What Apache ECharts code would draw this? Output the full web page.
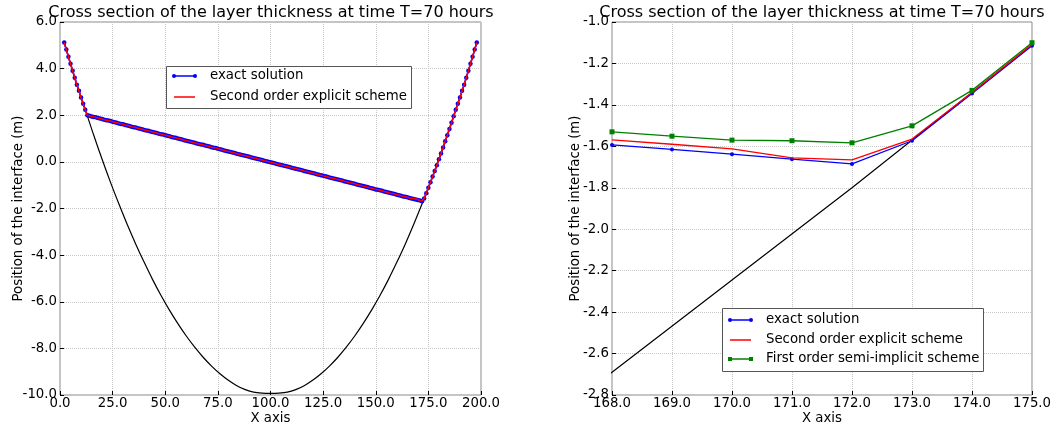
<!DOCTYPE html>
<html><head><meta charset="utf-8">
<script src="https://cdn.jsdelivr.net/npm/echarts@6/dist/echarts.min.js"></script>
<style>html,body{margin:0;padding:0;background:#fff}#c{width:1052px;height:425px}</style>
</head><body><div id="c"></div>
<script>
// ---- data ----
const titleText = 'Cross section of the layer thickness at time T=70 hours';
const yName = 'Position of the interface (m)';
const xName = 'X axis';
const legendNames = ['exact solution', 'Second order explicit scheme', 'First order semi-implicit scheme'];

// grid abscissae of the left panel
const xGrid = [2,3,4,5,6,7,8,9,10,11,12,13,14,15,16,17,18,19,20,21,22,23,24,25,26,27,28,29,30,31,32,33,34,35,36,37,38,39,40,41,42,43,44,45,46,47,48,49,50,51,52,53,54,55,56,57,58,59,60,61,62,63,64,65,66,67,68,69,70,71,72,73,74,75,76,77,78,79,80,81,82,83,84,85,86,87,88,89,90,91,92,93,94,95,96,97,98,99,100,101,102,103,104,105,106,107,108,109,110,111,112,113,114,115,116,117,118,119,120,121,122,123,124,125,126,127,128,129,130,131,132,133,134,135,136,137,138,139,140,141,142,143,144,145,146,147,148,149,150,151,152,153,154,155,156,157,158,159,160,161,162,163,164,165,166,167,168,169,170,171,172,173,174,175,176,177,178,179,180,181,182,183,184,185,186,187,188,189,190,191,192,193,194,195,196,197,198];
// exact solution (interface position) at those abscissae
const exactLeft = [
 5.12,4.82,4.51,4.21,3.91,3.61,3.31,3.05,2.76,2.49,2.24,
 2.00,1.98,1.95,1.93,1.91,1.88,1.86,1.84,1.81,1.79,1.77,
 1.75,1.72,1.70,1.68,1.65,1.63,1.61,1.58,1.56,1.54,
 1.51,1.49,1.47,1.44,1.42,1.40,1.37,1.35,1.33,1.30,
 1.28,1.26,1.24,1.21,1.19,1.17,1.14,1.12,1.10,1.07,
 1.05,1.03,1.00,0.98,0.96,0.93,0.91,0.89,0.86,0.84,
 0.82,0.79,0.77,0.75,0.73,0.70,0.68,0.66,0.63,0.61,
 0.59,0.56,0.54,0.52,0.49,0.47,0.45,0.42,0.40,0.38,
 0.35,0.33,0.31,0.28,0.26,0.24,0.22,0.19,0.17,0.15,
 0.12,0.10,0.08,0.05,0.03,0.01,-0.02,-0.04,-0.06,-0.09,
 -0.11,-0.13,-0.16,-0.18,-0.20,-0.22,-0.25,-0.27,-0.29,-0.32,
 -0.34,-0.36,-0.39,-0.41,-0.43,-0.46,-0.48,-0.50,-0.53,-0.55,
 -0.57,-0.60,-0.62,-0.64,-0.67,-0.69,-0.71,-0.73,-0.76,-0.78,
 -0.80,-0.83,-0.85,-0.87,-0.90,-0.92,-0.94,-0.97,-0.99,-1.01,
 -1.04,-1.06,-1.08,-1.11,-1.13,-1.15,-1.18,-1.20,-1.22,-1.24,
 -1.27,-1.29,-1.31,-1.34,-1.36,-1.38,-1.41,-1.43,-1.45,-1.48,
 -1.50,-1.52,-1.55,-1.57,-1.593,-1.615,-1.638,-1.662,-1.685,-1.573,
 -1.345,-1.115,-0.87,-0.63,-0.39,-0.14,0.11,0.36,0.62,0.88,
 1.14,1.41,1.68,1.96,2.24,2.49,2.76,3.05,3.31,3.61,
 3.91,4.21,4.51,4.82,5.12
];
// bottom topography (black curve)
const topoX = [2,4,8,12,16,20,24,28,32,36,40,44,48,52,56,60,64,68,72,76,80,84,88,92,96,100,104,108,112,116,120,124,128,132,136,140,144,148,152,156,160,164,168,172,176,180,184,188,192,196,198];
const topoY = [5.12,4.51,3.31,2.24,1.15,0.11,-0.88,-1.81,-2.70,-3.53,-4.31,-5.05,-5.73,-6.36,-6.94,-7.47,-7.95,-8.38,-8.76,-9.09,-9.37,-9.60,-9.77,-9.88,-9.92,-9.93,-9.92,-9.88,-9.77,-9.60,-9.37,-9.09,-8.76,-8.38,-7.95,-7.47,-6.94,-6.36,-5.73,-5.05,-4.31,-3.53,-2.69,-1.80,-0.88,0.11,1.14,2.24,3.31,4.51,5.12];
// zoomed right panel
const xRight = [168,169,170,171,172,173,174,175];
const exactRight  = [-1.593,-1.615,-1.638,-1.662,-1.685,-1.573,-1.345,-1.115];
const secondRight = [-1.569,-1.590,-1.612,-1.656,-1.665,-1.565,-1.340,-1.108];
const firstRight  = [-1.530,-1.551,-1.570,-1.573,-1.583,-1.501,-1.330,-1.100];
// second order scheme on the full domain: same as exact at this scale except the values read on the zoom
const secondLeft = xGrid.map((x, i) => { const j = xRight.indexOf(x); return j >= 0 ? secondRight[j] : exactLeft[i]; });

// ---- chart ----
const F = 'DejaVu Sans';
const BLUE = '#0000ff', RED = '#ff0000', GREEN = '#008000';
const pairs = (xs, ys) => xs.map((x, i) => [x, ys[i]]);

function xAxisCfg(gi, min, max, interval) {
  return {
    type: 'value', gridIndex: gi, min, max, interval,
    name: xName, nameLocation: 'middle', nameGap: 17, nameMoveOverlap: false,
    nameTextStyle: { fontSize: 13.3, color: '#000', fontFamily: F },
    axisLine: { show: false, onZero: false },
    axisTick: { show: true, inside: true, length: 4, lineStyle: { color: '#000' } },
    axisLabel: { margin: 2, fontSize: 13.3, color: '#000', fontFamily: F, formatter: v => v.toFixed(1) },
    splitLine: { show: true, lineStyle: { color: '#c8c8c8', type: 'dotted', width: 1 } }
  };
}
function yAxisCfg(gi, min, max, interval, gap) {
  return {
    type: 'value', gridIndex: gi, min, max, interval,
    name: yName, nameLocation: 'middle', nameGap: gap, nameRotate: 90, nameMoveOverlap: false,
    nameTextStyle: { fontSize: 13.3, color: '#000', fontFamily: F },
    axisLine: { show: false, onZero: false },
    axisTick: { show: true, inside: true, length: 4, lineStyle: { color: '#000' } },
    axisLabel: { margin: 3, fontSize: 13.3, color: '#000', fontFamily: F, formatter: v => v.toFixed(1) },
    splitLine: { show: true, lineStyle: { color: '#c8c8c8', type: 'dotted', width: 1 } }
  };
}

function legendGraphic(bx, by, bw, bh, rows) {
  const els = [{ type: 'rect', z: 100, shape: { x: bx + 0.5, y: by + 0.5, width: bw, height: bh }, style: { fill: '#fff', stroke: '#555', lineWidth: 1 } }];
  rows.forEach(r => {
    els.push({ type: 'line', z: 101, shape: { x1: bx + 8, y1: r.y, x2: bx + 29, y2: r.y }, style: { stroke: r.color, lineWidth: 1.5 } });
    if (r.marker === 'circle') {
      els.push({ type: 'circle', z: 102, shape: { cx: bx + 8, cy: r.y, r: 2 }, style: { fill: r.color } });
      els.push({ type: 'circle', z: 102, shape: { cx: bx + 29, cy: r.y, r: 2 }, style: { fill: r.color } });
    } else if (r.marker === 'square') {
      els.push({ type: 'rect', z: 102, shape: { x: bx + 6, y: r.y - 2, width: 4, height: 4 }, style: { fill: r.color } });
      els.push({ type: 'rect', z: 102, shape: { x: bx + 27, y: r.y - 2, width: 4, height: 4 }, style: { fill: r.color } });
    }
    els.push({ type: 'text', z: 102, x: bx + 44, y: r.y, style: { text: r.name, fontSize: 13.3, fontFamily: F, fill: '#000', align: 'left', verticalAlign: 'middle' } });
  });
  return els;
}

const chart = echarts.init(document.getElementById('c'), null, { renderer: 'canvas' });
chart.setOption({
  animation: false,
  backgroundColor: '#fff',
  textStyle: { fontFamily: F },
  title: [
    { text: titleText, left: 271, top: 5, textAlign: 'center', padding: 0, textStyle: { fontSize: 16, fontWeight: 'normal', color: '#000', fontFamily: F } },
    { text: titleText, left: 822, top: 5, textAlign: 'center', padding: 0, textStyle: { fontSize: 16, fontWeight: 'normal', color: '#000', fontFamily: F } }
  ],
  grid: [
    { left: 60, top: 22, width: 421, height: 373, show: true, borderColor: '#888', borderWidth: 1, backgroundColor: 'transparent', containLabel: false, outerBoundsMode: 'none' },
    { left: 612, top: 22, width: 420, height: 373, show: true, borderColor: '#888', borderWidth: 1, backgroundColor: 'transparent', containLabel: false, outerBoundsMode: 'none' }
  ],
  xAxis: [xAxisCfg(0, 0, 200, 25), xAxisCfg(1, 168, 175, 1)],
  yAxis: [yAxisCfg(0, -10, 6, 2, 35), yAxisCfg(1, -2.8, -1.0, 0.2, 30)],
  series: [
    { type: 'line', name: 'topography', xAxisIndex: 0, yAxisIndex: 0, z: 2, data: pairs(topoX, topoY), smooth: 0.3, symbol: 'none', lineStyle: { color: '#000', width: 1.2 }, clip: true },
    { type: 'line', name: legendNames[0], xAxisIndex: 0, yAxisIndex: 0, z: 3, data: pairs(xGrid, exactLeft), symbol: 'circle', symbolSize: 4.5, showAllSymbol: true, itemStyle: { color: BLUE }, lineStyle: { color: BLUE, width: 1.5 }, clip: true },
    { type: 'line', name: legendNames[1], xAxisIndex: 0, yAxisIndex: 0, z: 4, data: pairs(xGrid, secondLeft), symbol: 'none', lineStyle: { color: RED, width: 1.5 }, clip: true },

    { type: 'line', name: 'topography ', xAxisIndex: 1, yAxisIndex: 1, z: 2, data: pairs(topoX, topoY), symbol: 'none', lineStyle: { color: '#000', width: 1.2 }, clip: true },
    { type: 'line', name: legendNames[0] + ' ', xAxisIndex: 1, yAxisIndex: 1, z: 3, data: pairs(xRight, exactRight), symbol: 'circle', symbolSize: 4, itemStyle: { color: BLUE }, lineStyle: { color: BLUE, width: 1.3 }, clip: true },
    { type: 'line', name: legendNames[1] + ' ', xAxisIndex: 1, yAxisIndex: 1, z: 4, data: pairs(xRight, secondRight), symbol: 'none', lineStyle: { color: RED, width: 1.3 }, clip: true },
    { type: 'line', name: legendNames[2], xAxisIndex: 1, yAxisIndex: 1, z: 5, data: pairs(xRight, firstRight), symbol: 'rect', symbolSize: 5, itemStyle: { color: GREEN }, lineStyle: { color: GREEN, width: 1.3 }, clip: true }
  ],
  graphic: [
    ...legendGraphic(166, 66, 245, 42, [
      { y: 76, color: BLUE, marker: 'circle', name: legendNames[0] },
      { y: 97, color: RED, marker: 'none', name: legendNames[1] }
    ]),
    ...legendGraphic(722, 308, 261, 63, [
      { y: 320, color: BLUE, marker: 'circle', name: legendNames[0] },
      { y: 340, color: RED, marker: 'none', name: legendNames[1] },
      { y: 359, color: GREEN, marker: 'square', name: legendNames[2] }
    ])
  ]
});
</script>
</body></html>
